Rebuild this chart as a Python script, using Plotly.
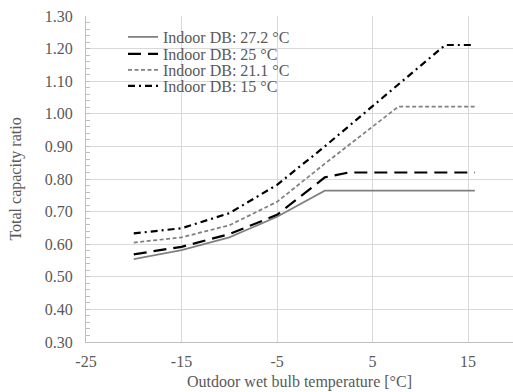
import plotly.graph_objects as go

# ---- data ----
series_names = ["Indoor DB: 27.2 °C", "Indoor DB: 25 °C", "Indoor DB: 21.1 °C", "Indoor DB: 15 °C"]

x_272 = [-20, -15, -10, -5, 0, 15.7]
y_272 = [0.554, 0.582, 0.621, 0.684, 0.764, 0.764]

x_25 = [-20, -15, -10, -5, 0, 2.5, 15.7]
y_25 = [0.569, 0.592, 0.631, 0.690, 0.805, 0.820, 0.820]

x_211 = [-20, -15, -10, -5, 0, 7.7, 15.7]
y_211 = [0.605, 0.621, 0.658, 0.730, 0.847, 1.022, 1.022]

x_15 = [-20, -15, -10, -5, 0, 12.6, 15.7]
y_15 = [0.633, 0.649, 0.695, 0.782, 0.900, 1.211, 1.211]

x_ticks = [-25, -15, -5, 5, 15]

# ---- styles ----
FONT = "Liberation Serif, Times New Roman, serif"
TXT = "#595959"
styles = [
    dict(color="#808080", width=1.75, dash="solid"),
    dict(color="#000000", width=2.2, dash="13px,7px"),
    dict(color="#808080", width=1.75, dash="4px,2.5px"),
    dict(color="#000000", width=2.2, dash="7px,4px,2px,4px"),
]
xs = [x_272, x_25, x_211, x_15]
ys = [y_272, y_25, y_211, y_15]

# plot area geometry (px) for placing the legends
W, H = 513, 392
ml, mr, mt, mb = 86, 0, 16, 50
pw = W - ml - mr
ph = H - mt - mb
legend_rows_px = [37, 54, 70, 86]
legend_text_left_px = 163
legend_box_px = dict(x0=140, x1=323, y0=21, y1=96)

fig = go.Figure()
legend_ids = ["legend", "legend2", "legend3", "legend4"]
for i in range(4):
    fig.add_trace(go.Scatter(
        x=xs[i], y=ys[i], mode="lines", name=series_names[i],
        line=styles[i], legend=legend_ids[i], showlegend=True,
    ))

layout_legends = {}
for i, lid in enumerate(legend_ids):
    layout_legends[lid] = dict(
        x=(legend_text_left_px - 40 - ml) / pw,
        xanchor="left",
        y=(H - mb - legend_rows_px[i]) / ph,
        yanchor="middle",
        bgcolor="rgba(0,0,0,0)",
        borderwidth=0,
        font=dict(family=FONT, size=16, color=TXT),
        itemwidth=30,
        visible=True,
    )

# white legend background box (between gridlines and traces)
fig.add_shape(
    type="rect", xref="paper", yref="paper", layer="between",
    x0=(legend_box_px["x0"] - ml) / pw, x1=(legend_box_px["x1"] - ml) / pw,
    y0=(H - mb - legend_box_px["y1"]) / ph, y1=(H - mb - legend_box_px["y0"]) / ph,
    fillcolor="white", line=dict(width=0),
)

fig.update_layout(
    width=W, height=H,
    showlegend=True,
    margin=dict(l=ml, r=mr, t=mt, b=mb, pad=0, autoexpand=False),
    paper_bgcolor="white", plot_bgcolor="white",
    font=dict(family=FONT, size=16, color=TXT),
    **layout_legends,
)

fig.update_xaxes(
    range=[-25, 19.7], automargin=False,
    tickmode="array", tickvals=x_ticks, ticktext=[str(v) for v in x_ticks],
    showgrid=True, gridcolor="#d9d9d9", gridwidth=1,
    showline=True, linecolor="#bfbfbf", linewidth=1,
    zeroline=False, ticks="",
    ticklabelstandoff=5,
    tickfont=dict(family=FONT, size=16, color=TXT),
    title=dict(text="Outdoor wet bulb temperature [°C]", font=dict(family=FONT, size=16, color=TXT), standoff=6),
)
fig.update_yaxes(
    range=[0.3, 1.3], automargin=False,
    tick0=0.3, dtick=0.1, tickformat=".2f",
    showgrid=True, gridcolor="#d9d9d9", gridwidth=1,
    showline=True, linecolor="#bfbfbf", linewidth=1,
    zeroline=False, ticks="inside", ticklen=4, tickcolor="#bfbfbf",
    minor=dict(dtick=0.02, ticks="inside", ticklen=4, tickcolor="#bfbfbf", showgrid=False),
    ticklabelstandoff=9,
    tickfont=dict(family=FONT, size=16, color=TXT),
    title=dict(text="Total capacity ratio", font=dict(family=FONT, size=16, color=TXT), standoff=19),
)

fig.write_html(
    "out.html",
    config={"displayModeBar": False},
    post_script="document.body.style.margin='0px';document.body.style.overflow='hidden';",
)
